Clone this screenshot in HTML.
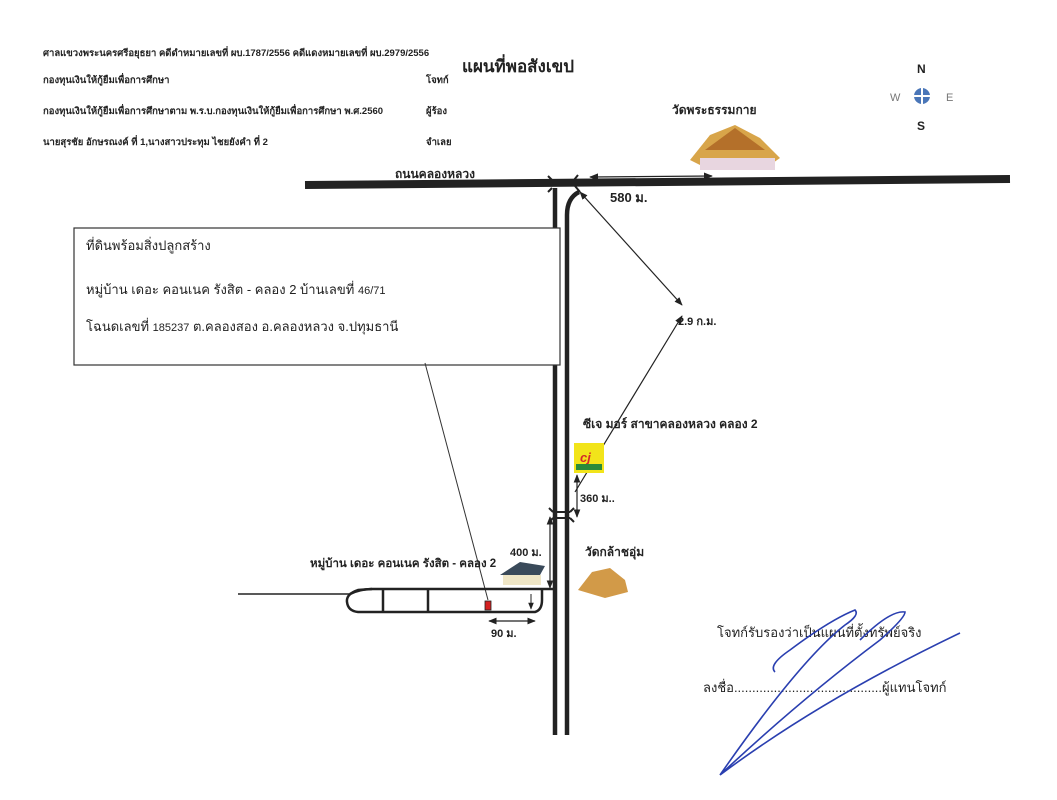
<!DOCTYPE html>
<html><head><meta charset="utf-8"><style>
html,body{margin:0;padding:0;background:#fff;}
svg{display:block;}
text{font-family:"Liberation Sans","Noto Sans CJK SC",sans-serif;}
</style></head><body>
<svg width="1057" height="800" viewBox="0 0 1057 800" xmlns="http://www.w3.org/2000/svg">
<defs>
<marker id="a" viewBox="0 0 10 10" refX="9" refY="5" markerWidth="7" markerHeight="7" orient="auto-start-reverse"><path d="M0,1 L10,5 L0,9 z" fill="#222"/></marker>
</defs>
<g font-size="9.5" font-weight="bold" fill="#222">
<text x="43" y="56">ศาลแขวงพระนครศรีอยุธยา คดีดำหมายเลขที่ ผบ.1787/2556 คดีแดงหมายเลขที่ ผบ.2979/2556</text>
<text x="43" y="83">กองทุนเงินให้กู้ยืมเพื่อการศึกษา</text>
<text x="426" y="83">โจทก์</text>
<text x="43" y="114">กองทุนเงินให้กู้ยืมเพื่อการศึกษาตาม พ.ร.บ.กองทุนเงินให้กู้ยืมเพื่อการศึกษา พ.ศ.2560</text>
<text x="426" y="114">ผู้ร้อง</text>
<text x="43" y="145">นายสุรชัย อักษรณงค์ ที่ 1,นางสาวประทุม ไชยยังคำ ที่ 2</text>
<text x="426" y="145">จำเลย</text>
</g>
<text x="462" y="72" font-size="17" font-weight="bold" fill="#222">แผนที่พอสังเขป</text>
<text x="917" y="73" font-size="12" font-weight="bold" fill="#222">N</text>
<text x="917" y="130" font-size="12" font-weight="bold" fill="#222">S</text>
<text x="890" y="101" font-size="11" fill="#777">W</text>
<text x="946" y="101" font-size="11" fill="#777">E</text>
<circle cx="922" cy="96" r="8" fill="#4a76b8"/>
<line x1="914" y1="96" x2="930" y2="96" stroke="#fff" stroke-width="2"/>
<line x1="922" y1="88" x2="922" y2="104" stroke="#fff" stroke-width="2"/>
<text x="672" y="114" font-size="12" font-weight="bold" fill="#222">วัดพระธรรมกาย</text>
<g>
<polygon points="690,160 710,135 735,125 760,138 780,158 770,165 700,165" fill="#d8a54a"/>
<polygon points="705,150 735,128 765,150" fill="#b4702a"/>
<rect x="700" y="158" width="75" height="12" fill="#e8d6e0"/>
</g>
<line x1="305" y1="185" x2="1010" y2="179" stroke="#222" stroke-width="8"/>
<text x="395" y="178" font-size="12" font-weight="bold" fill="#222">ถนนคลองหลวง</text>
<path d="M548,176 L552,180 M578,175 L574,180 M548,192 L552,188 M580,192 L575,186" stroke="#222" stroke-width="2"/>
<line x1="555" y1="188" x2="555" y2="735" stroke="#222" stroke-width="4.5"/>
<path d="M579,192 Q567,198 567,215 L567,735" fill="none" stroke="#222" stroke-width="4.5"/>
<line x1="590" y1="177" x2="712" y2="176" stroke="#222" stroke-width="1.3" marker-start="url(#a)" marker-end="url(#a)"/>
<text x="610" y="202" font-size="13" font-weight="bold" fill="#222">580 ม.</text>
<line x1="580" y1="192" x2="682" y2="305" stroke="#222" stroke-width="1.2" marker-start="url(#a)" marker-end="url(#a)"/>
<line x1="575" y1="492" x2="682" y2="316" stroke="#222" stroke-width="1.2" marker-end="url(#a)"/>
<text x="678" y="325" font-size="11" font-weight="bold" fill="#222">2.9 ก.ม.</text>
<rect x="74" y="228" width="486" height="137" fill="#fff" stroke="#333" stroke-width="1.2"/>
<g font-size="13" fill="#222">
<text x="86" y="250">ที่ดินพร้อมสิ่งปลูกสร้าง</text>
<text x="86" y="294">หมู่บ้าน เดอะ คอนเนค รังสิต - คลอง 2 บ้านเลขที่ <tspan font-size="11">46/71</tspan></text>
<text x="86" y="331">โฉนดเลขที่ <tspan font-size="11">185237</tspan> ต.คลองสอง อ.คลองหลวง  จ.ปทุมธานี</text>
</g>
<line x1="425" y1="363" x2="488" y2="600" stroke="#333" stroke-width="1"/>
<text x="583" y="428" font-size="12" font-weight="bold" fill="#222">ซีเจ มอร์ สาขาคลองหลวง คลอง 2</text>
<rect x="574" y="443" width="30" height="30" fill="#f2e41a"/>
<text x="580" y="462" font-size="13" font-weight="bold" fill="#d42a2a" font-style="italic">cj</text>
<rect x="576" y="464" width="26" height="6" fill="#2a8a3a"/>
<line x1="577" y1="475" x2="577" y2="517" stroke="#222" stroke-width="1.2" marker-start="url(#a)" marker-end="url(#a)"/>
<text x="580" y="502" font-size="11" font-weight="bold" fill="#222">360 ม..</text>
<path d="M549,508 L553,512 M574,508 L570,512 M549,522 L553,518 M574,522 L570,518 M553,512 L570,512 M553,518 L570,518" stroke="#222" stroke-width="2" fill="none"/>
<line x1="550" y1="517" x2="550" y2="588" stroke="#222" stroke-width="1.2" marker-start="url(#a)" marker-end="url(#a)"/>
<text x="510" y="556" font-size="11" font-weight="bold" fill="#222">400 ม.</text>
<text x="310" y="567" font-size="11.5" font-weight="bold" fill="#222">หมู่บ้าน เดอะ คอนเนค รังสิต - คลอง 2</text>
<polygon points="500,575 520,562 545,566 540,575" fill="#3a4a5a"/>
<rect x="503" y="575" width="38" height="10" fill="#efe6c6"/>
<text x="585" y="556" font-size="12" font-weight="bold" fill="#222">วัดกล้าชอุ่ม</text>
<polygon points="578,590 592,572 610,568 625,580 628,592 605,598" fill="#d29a48"/>
<line x1="238" y1="594" x2="350" y2="594" stroke="#222" stroke-width="1.5"/>
<path d="M350,594 Q360,589 372,589 L553,589" fill="none" stroke="#222" stroke-width="2.5"/>
<path d="M372,589 L358,590 Q346,594 347,602 Q348,611 358,612 L535,612 Q542,610 542,600 L542,589" fill="none" stroke="#222" stroke-width="2.5"/>
<line x1="383" y1="589" x2="383" y2="612" stroke="#222" stroke-width="2.5"/>
<line x1="428" y1="589" x2="428" y2="612" stroke="#222" stroke-width="2.5"/>
<rect x="485" y="601" width="6" height="9" fill="#d42020" stroke="#222" stroke-width="0.8"/>
<line x1="531" y1="594" x2="531" y2="609" stroke="#222" stroke-width="1" marker-end="url(#a)"/>
<line x1="489" y1="621" x2="535" y2="621" stroke="#222" stroke-width="1.2" marker-start="url(#a)" marker-end="url(#a)"/>
<text x="491" y="637" font-size="11" font-weight="bold" fill="#222">90 ม.</text>
<text x="717" y="637" font-size="13" fill="#222">โจทก์รับรองว่าเป็นแผนที่ตั้งทรัพย์จริง</text>
<text x="703" y="692" font-size="13" fill="#222">ลงชื่อ.........................................ผู้แทนโจทก์</text>
<path d="M775,672 Q768,665 790,650 Q830,620 855,610 Q860,615 845,625 Q800,660 720,775 Q800,700 880,640 Q905,618 905,612 Q890,610 860,640 M720,775 Q820,700 960,633" fill="none" stroke="#2a3fb0" stroke-width="1.6"/>
</svg>
</body></html>
